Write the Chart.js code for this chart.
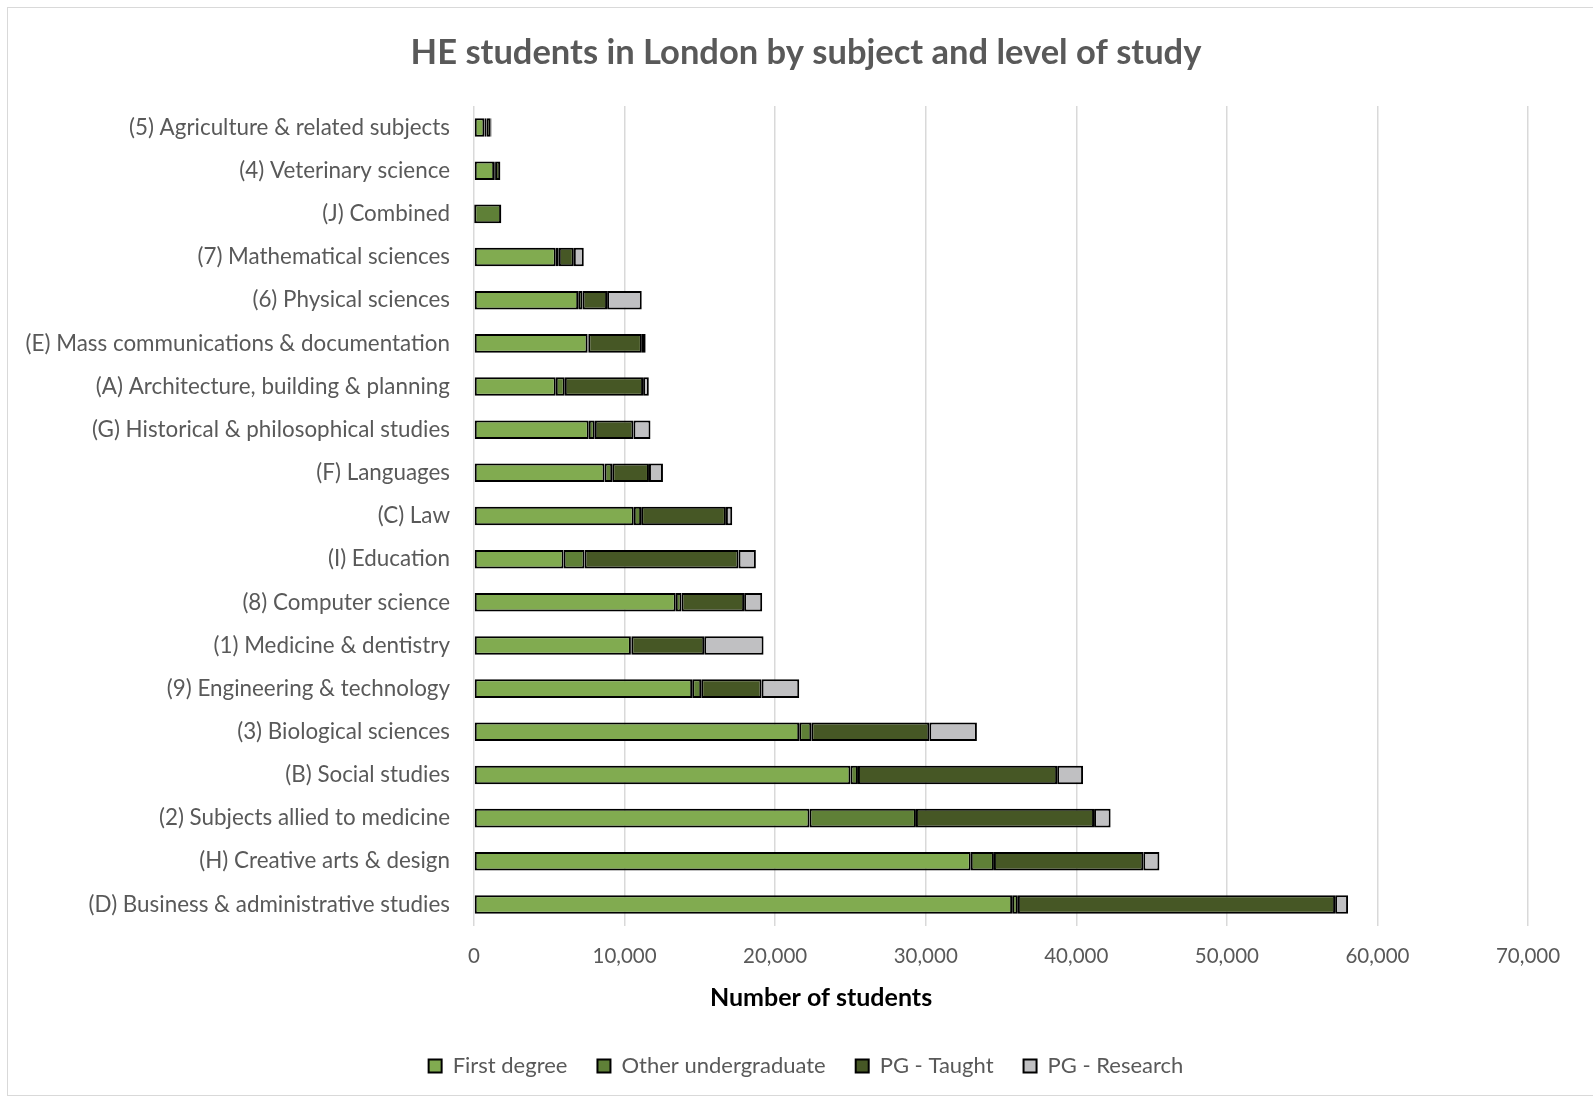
<!DOCTYPE html>
<html>
<head>
<meta charset="utf-8">
<script src="https://cdn.jsdelivr.net/npm/chart.js@4.4.1/dist/chart.umd.min.js"></script>
<style>
  html, body { margin: 0; padding: 0; background: #fff; }
  #frame { position: absolute; left: 7px; top: 7px; width: 1600px; height: 1089px; border: 1px solid #d9d9d9; box-sizing: border-box; }
  #wrap { position: absolute; left: 0; top: 0; width: 1593px; height: 1099px; }
</style>
</head>
<body>
<div id="frame"></div>
<div id="wrap"><canvas id="c" width="1593" height="1099"></canvas></div>
<script>
const categories = [
  "(5) Agriculture & related subjects",
  "(4) Veterinary science",
  "(J) Combined",
  "(7) Mathematical sciences",
  "(6) Physical sciences",
  "(E) Mass communications & documentation",
  "(A) Architecture, building & planning",
  "(G) Historical & philosophical studies",
  "(F) Languages",
  "(C) Law",
  "(I) Education",
  "(8) Computer science",
  "(1) Medicine & dentistry",
  "(9) Engineering & technology",
  "(3) Biological sciences",
  "(B) Social studies",
  "(2) Subjects allied to medicine",
  "(H) Creative arts & design",
  "(D) Business & administrative studies"
];
const firstDegree = [690, 1340, 20, 5430, 6920, 7540, 5430, 7620, 8670, 10610, 5950, 13400, 10420, 14490, 21600, 25000, 22280, 32990, 35740];
const otherUndergraduate = [130, 60, 1780, 200, 290, 50, 600, 400, 510, 490, 1390, 380, 30, 600, 800, 500, 7070, 1540, 380];
const pgTaught = [290, 340, 20, 1000, 1630, 3560, 5200, 2570, 2440, 5630, 10230, 4160, 4840, 4010, 7840, 13230, 11830, 9920, 21070];
const pgResearch = [50, 20, 0, 660, 2300, 250, 380, 1130, 930, 420, 1150, 1200, 3940, 2500, 3160, 1720, 1100, 1070, 860];
const xTicks = [0, 10000, 20000, 30000, 40000, 50000, 60000, 70000];
const xAxisTitle = "Number of students";

const FONT = "Lato, 'Open Sans', sans-serif";
const GREY = "#595959";

function ds(label, data, color) {
  return {
    label, data,
    backgroundColor: color,
    borderColor: "#000000",
    borderWidth: 2,
    borderSkipped: false,
    barPercentage: 0.43,
    categoryPercentage: 1.0
  };
}

// x-axis title, placed where the reference places it (centred under the whole figure)
const axisTitlePlugin = {
  id: "axisTitle",
  afterDraw(chart) {
    const ctx = chart.ctx;
    ctx.save();
    ctx.font = "bold 25px " + FONT;
    ctx.fillStyle = "#000000";
    ctx.textAlign = "center";
    ctx.textBaseline = "middle";
    ctx.fillText(xAxisTitle, 821, 998);
    ctx.restore();
  }
};

new Chart(document.getElementById("c"), {
  type: "bar",
  data: {
    labels: categories,
    datasets: [
      ds("First degree", firstDegree, "#81AB50"),
      ds("Other undergraduate", otherUndergraduate, "#5F8037"),
      ds("PG - Taught", pgTaught, "#465725"),
      ds("PG - Research", pgResearch, "#C0C0C2")
    ]
  },
  plugins: [axisTitlePlugin],
  options: {
    indexAxis: "y",
    responsive: false,
    animation: false,
    layout: { padding: { left: 20, right: 1, top: 0, bottom: 12 } },
    plugins: {
      title: {
        display: true,
        text: "HE students in London by subject and level of study",
        color: GREY,
        font: { family: FONT, size: 34.5, weight: "bold" },
        padding: { top: 32.3, bottom: 32.3 }
      },
      legend: {
        display: true,
        position: "bottom",
        labels: {
          color: GREY,
          font: { family: FONT, size: 22 },
          boxWidth: 13,
          boxHeight: 13,
          padding: 30
        }
      },
      tooltip: { enabled: false }
    },
    scales: {
      x: {
        stacked: true,
        min: 0,
        max: 70000,
        afterBuildTicks: (scale) => { scale.ticks = xTicks.map(v => ({ value: v })); },
        afterFit: (scale) => { scale.height = 99; },
        ticks: {
          color: GREY,
          font: { family: FONT, size: 20.5 },
          padding: 18,
          callback: (v) => Number(v).toLocaleString("en-US")
        },
        grid: { color: "#d9d9d9", lineWidth: 1.5, drawTicks: false },
        border: { display: false }
      },
      y: {
        stacked: true,
        afterFit: (scale) => { scale.width = 454; },
        ticks: {
          color: GREY,
          font: { family: FONT, size: 22.4 },
          padding: 24
        },
        grid: { display: false, drawTicks: false },
        border: { display: false }
      },
      yRight: {
        type: "category",
        position: "right",
        display: true,
        afterFit: (scale) => { scale.width = 64; },
        ticks: { display: false },
        grid: { display: false, drawTicks: false },
        border: { display: false }
      }
    }
  }
});
</script>
</body>
</html>
